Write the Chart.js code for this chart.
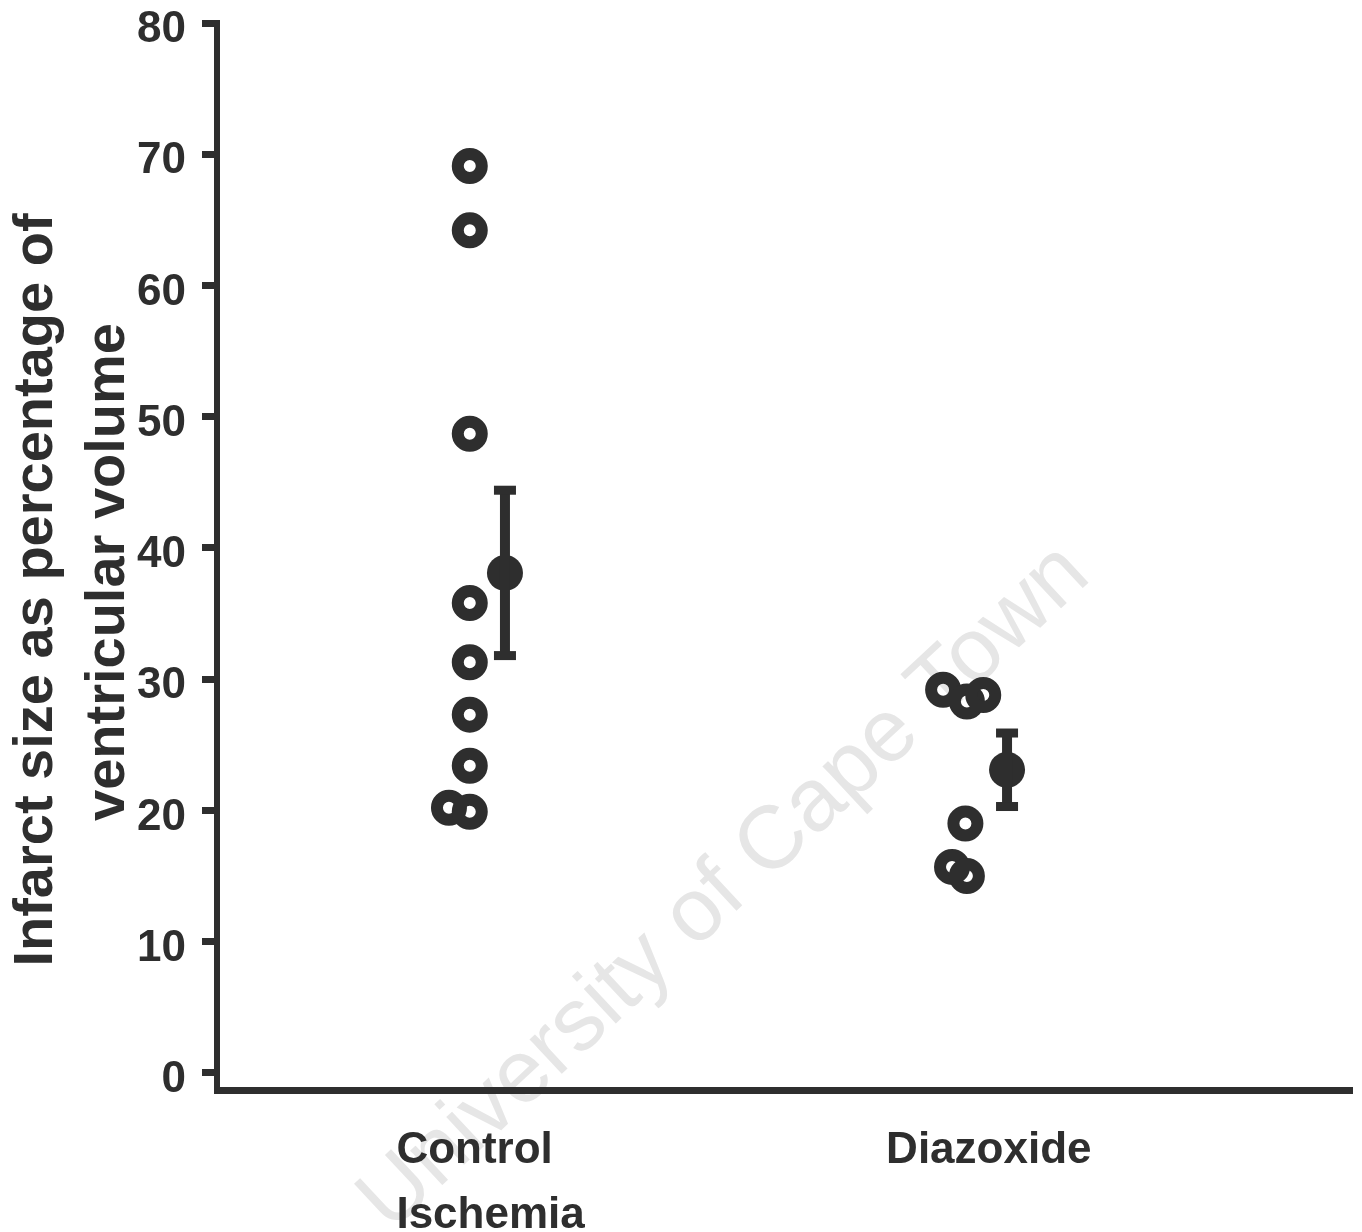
<!DOCTYPE html>
<html>
<head>
<meta charset="utf-8">
<script src="https://cdn.jsdelivr.net/npm/chart.js@4.4.1/dist/chart.umd.min.js"></script>
<style>
html,body{margin:0;padding:0;background:#ffffff;}
#wrap{width:1362px;height:1232px;position:relative;}
</style>
</head>
<body>
<div id="wrap"><canvas id="c" width="1362" height="1232"></canvas></div>
<script>
// ---------- data ----------
const categoryLabels = [["Control", "Ischemia"], ["Diazoxide"]];
const categoryX = [1, 2];
const labelX = [0.852, 1.840];
const controlValues = [69.1, 64.2, 48.7, 35.8, 31.3, 27.3, 23.4, 20.2, 19.9];
const controlJitter = [0, 0, 0, 0, 0, 0, 0, -0.042, 0];
const diazoxideValues = [29.2, 28.3, 28.8, 19.0, 15.7, 15.0];
const diazoxideJitter = [-0.045, 0.003, 0.036, 0, -0.027, 0.003];
const meanValues = [38.1, 23.1];
const semValues = [6.3, 2.8];
const meanOffset = [0.071, 0.084];
const yTickValues = [0, 10, 20, 30, 40, 50, 60, 70, 80];
const yAxisTitle = ["Infarct size as percentage of", "ventricular volume"];
const watermarkText = "University of Cape Town";

// ---------- style ----------
const DARK = '#2e2e2e';
const FAMILY = "'Liberation Sans', Arial, Helvetica, sans-serif";

const controlPoints = controlValues.map((v, i) => ({x: categoryX[0] + controlJitter[i], y: v}));
const diazoxidePoints = diazoxideValues.map((v, i) => ({x: categoryX[1] + diazoxideJitter[i], y: v}));
const meanPoints = meanValues.map((v, i) => ({x: categoryX[i] + meanOffset[i], y: v}));

const watermarkPlugin = {
  id: 'watermark',
  beforeDraw(chart) {
    const ctx = chart.ctx;
    ctx.save();
    ctx.fillStyle = '#ffffff';
    ctx.fillRect(0, 0, chart.width, chart.height);
    ctx.translate(725, 888);
    ctx.rotate(-43 * Math.PI / 180);
    ctx.font = "89px " + FAMILY;
    ctx.fillStyle = '#e6e6e6';
    ctx.textAlign = 'center';
    ctx.textBaseline = 'middle';
    ctx.fillText(watermarkText, 0, 0);
    ctx.restore();
  }
};

const yTitlePlugin = {
  id: 'yTitle',
  afterDraw(chart) {
    const ctx = chart.ctx;
    ctx.save();
    ctx.font = "bold 56px " + FAMILY;
    ctx.fillStyle = DARK;
    ctx.textAlign = 'center';
    ctx.textBaseline = 'alphabetic';
    const pos = [[52, 590], [124, 572]];
    yAxisTitle.forEach((t, i) => {
      ctx.save();
      ctx.translate(pos[i][0], pos[i][1]);
      ctx.rotate(-Math.PI / 2);
      ctx.fillText(t, 0, 0);
      ctx.restore();
    });
    ctx.restore();
  }
};

const errorBarPlugin = {
  id: 'errorBars',
  afterDatasetsDraw(chart) {
    const ctx = chart.ctx;
    const xs = chart.scales.x, ys = chart.scales.y;
    ctx.save();
    ctx.fillStyle = DARK;
    ctx.strokeStyle = DARK;
    meanValues.forEach((m, i) => {
      const px = xs.getPixelForValue(categoryX[i] + meanOffset[i]);
      const top = ys.getPixelForValue(m + semValues[i]);
      const bot = ys.getPixelForValue(m - semValues[i]);
      ctx.lineWidth = 10;
      ctx.beginPath();
      ctx.moveTo(px, top);
      ctx.lineTo(px, bot);
      ctx.stroke();
      const cw = 22, ch = 9;
      ctx.fillRect(px - cw / 2, top - ch / 2, cw, ch);
      ctx.fillRect(px - cw / 2, bot - ch / 2, cw, ch);
    });
    ctx.restore();
  }
};

new Chart(document.getElementById('c'), {
  type: 'scatter',
  data: {
    datasets: [
      {
        label: 'Control Ischemia',
        data: controlPoints,
        pointStyle: 'circle',
        pointRadius: 12,
        borderWidth: 12,
        borderColor: DARK,
        backgroundColor: 'rgba(0,0,0,0)'
      },
      {
        label: 'Diazoxide',
        data: diazoxidePoints,
        pointStyle: 'circle',
        pointRadius: 12,
        borderWidth: 12,
        borderColor: DARK,
        backgroundColor: 'rgba(0,0,0,0)'
      },
      {
        label: 'Mean',
        data: meanPoints,
        pointStyle: 'circle',
        pointRadius: 18,
        borderWidth: 0,
        backgroundColor: DARK
      }
    ]
  },
  options: {
    responsive: false,
    devicePixelRatio: 1,
    animation: false,
    events: [],
    layout: {autoPadding: false, padding: {left: 0, top: 23, right: 10, bottom: 0}},
    plugins: {
      legend: {display: false},
      tooltip: {enabled: false},
      title: {display: false}
    },
    scales: {
      x: {
        type: 'linear',
        min: 0.49,
        max: 2.78,
        afterBuildTicks: s => { s.ticks = labelX.map(v => ({value: v})); },
        afterFit: s => { s.height = 142; s.paddingLeft = 0; s.paddingRight = 0; },
        grid: {display: false, drawTicks: false},
        border: {display: true, width: 7, color: DARK},
        ticks: {
          callback: (v, i) => categoryLabels[i],
          align: 'start',
          autoSkip: false,
          maxRotation: 0,
          minRotation: 0,
          padding: 28,
          color: DARK,
          font: {family: FAMILY, size: 44, weight: 'bold', lineHeight: 1.477}
        }
      },
      y: {
        type: 'linear',
        min: -1.3,
        max: 80,
        afterBuildTicks: s => { s.ticks = yTickValues.map(v => ({value: v})); },
        afterFit: s => { s.width = 217; s.paddingTop = 0; s.paddingBottom = 0; },
        grid: {display: true, drawOnChartArea: false, drawTicks: true, tickLength: 15, lineWidth: 7, color: DARK},
        border: {display: true, width: 6, color: DARK},
        ticks: {
          autoSkip: false,
          padding: 16,
          labelOffset: 7,
          color: DARK,
          font: {family: FAMILY, size: 44, weight: 'bold', lineHeight: 1}
        }
      }
    }
  },
  plugins: [watermarkPlugin, errorBarPlugin, yTitlePlugin]
});
</script>
</body>
</html>
